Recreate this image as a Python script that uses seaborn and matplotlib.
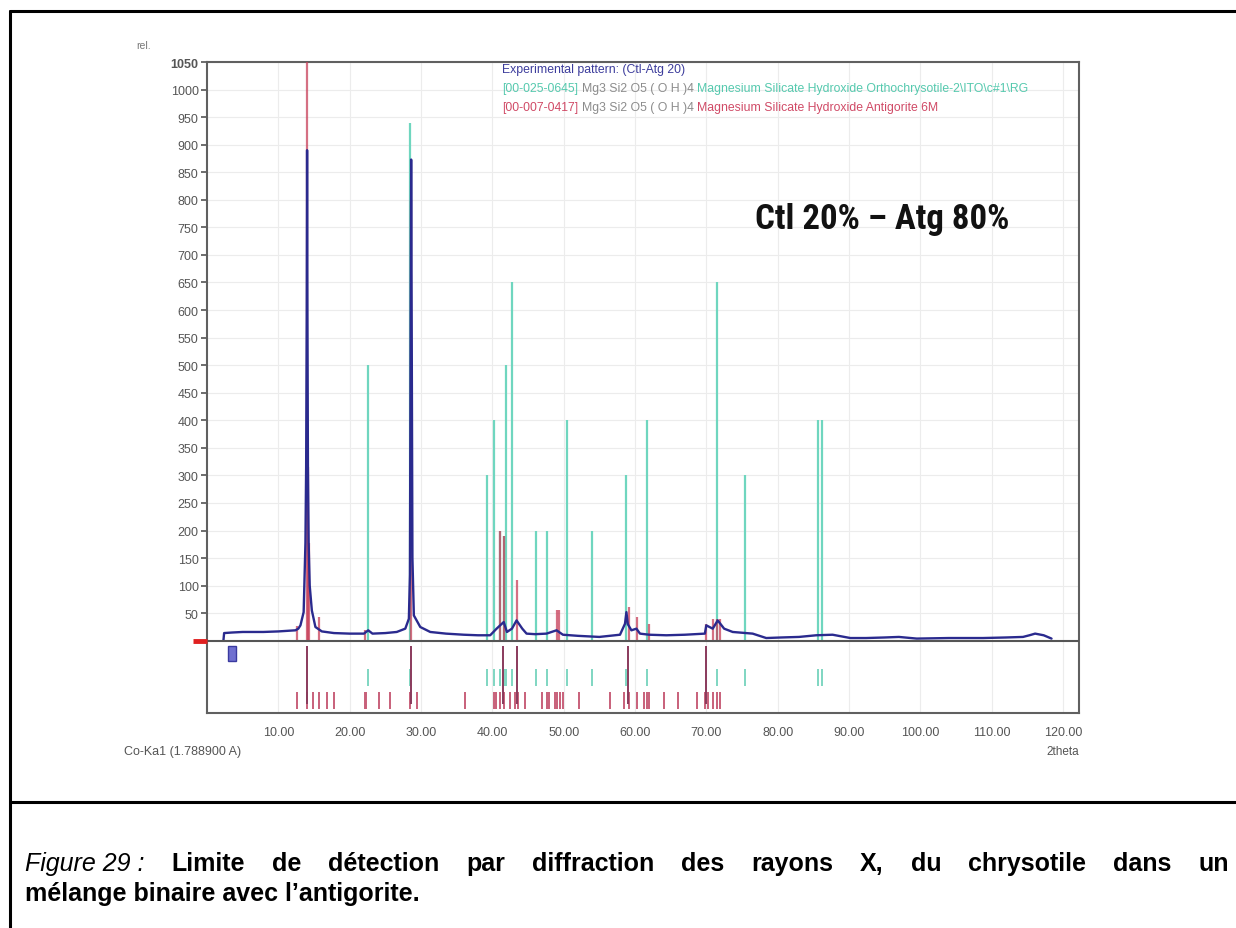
import matplotlib
matplotlib.use("Agg")
import matplotlib.pyplot as plt
import seaborn as sns
from matplotlib.lines import Line2D
from matplotlib.patches import Rectangle

# experimental pattern (2theta, counts)
exp_2theta = [2.3, 2.4, 3.5, 5.0, 7.9, 10.0, 12.4, 12.8, 13.1, 13.55, 13.8, 13.9, 13.98, 14.03,
              14.08, 14.15, 14.25, 14.4, 14.7, 15.2, 16.1, 17.8, 20.0, 22.0, 22.6, 23.2, 25.0,
              26.6, 27.8, 28.3, 28.45, 28.55, 28.62, 28.7, 28.8, 29.0, 29.9, 31.3, 33.5, 36.0,
              38.0, 39.7, 40.6, 41.1, 41.6, 42.05, 42.75, 43.4, 44.2, 44.8, 46.0, 47.6, 49.0,
              49.9, 52.0, 55.0, 57.9, 58.6, 58.8, 59.0, 59.5, 60.2, 60.7, 62.0, 64.4, 67.0,
              69.8, 70.0, 70.9, 71.6, 72.5, 73.7, 76.5, 78.4, 80.5, 83.0, 85.4, 87.7, 90.2,
              92.4, 95.0, 97.0, 99.5, 104.0, 108.8, 112.0, 114.4, 115.3, 116.1, 117.3, 118.4]
exp_counts = [0, 14, 15, 16, 16, 17, 19, 22, 28, 52, 178, 316, 587, 890,
              587, 316, 178, 100, 55, 25, 17, 14, 13, 13, 19, 13, 14,
              16, 22, 40, 120, 560, 873, 560, 150, 46, 25, 16, 13, 11,
              10, 10, 22, 28, 34, 16, 22, 37, 22, 13, 12, 13, 19,
              11, 9, 7, 11, 31, 52, 30, 19, 22, 13, 11, 10, 11,
              13, 28, 22, 37, 22, 16, 13, 5, 6, 7, 10, 11, 5,
              5, 6, 7, 4, 5, 5, 6, 7, 10, 13, 10, 4]

# reference sticks: chrysotile (00-025-0645) and antigorite (00-007-0417)
ctl_pos = [22.6, 28.45, 39.3, 40.2, 41.1, 41.6, 41.9, 42.8, 46.1, 47.7, 50.5, 54.0,
           58.7, 61.7, 71.5, 75.4, 85.7, 86.2]
ctl_int = [500, 940, 300, 400, 200, 190, 500, 650, 200, 200, 400, 200,
           300, 400, 650, 300, 400, 400]
atg_pos = [12.6, 14.05, 14.15, 14.3, 15.65, 22.2, 28.6, 41.1, 41.6, 43.45, 49.0, 49.3,
           59.1, 60.3, 61.9, 70.0, 71.0, 71.5, 71.9]
atg_int = [27, 1100, 316, 178, 43, 20, 800, 200, 190, 110, 55, 55,
           62, 43, 31, 31, 40, 40, 40]

# tick rows below the zero line
peak_ticks = [14.05, 28.55, 41.5, 43.4, 59.0, 70.0]
atg_ticks = [12.6, 14.05, 14.8, 15.7, 16.8, 17.8, 22.1, 22.3, 24.05, 25.6, 28.5, 29.5,
             36.2, 40.2, 40.5, 41.1, 41.6, 42.5, 43.2, 43.6, 44.6, 46.9, 47.6, 47.9,
             48.8, 49.1, 49.5, 49.9, 52.2, 56.5, 58.4, 59.1, 60.3, 61.2, 61.7, 62.0,
             64.0, 66.1, 68.7, 69.8, 70.3, 71.0, 71.5, 71.9]
exp_marker = (2.9, 4.0)

x_ticks = [10, 20, 30, 40, 50, 60, 70, 80, 90, 100, 110, 120]
x_labels = ['10.00', '20.00', '30.00', '40.00', '50.00', '60.00', '70.00', '80.00',
            '90.00', '100.00', '110.00', '120.00']
y_ticks = [50, 100, 150, 200, 250, 300, 350, 400, 450, 500, 550, 600, 650, 700,
           750, 800, 850, 900, 950, 1000, 1050]

legend_lines = [
    [("Experimental pattern: (Ctl-Atg 20)", "#3c3c9c")],
    [("[00-025-0645]", "#55c9ae"), ("Mg3 Si2 O5 ( O H )4", "#8c8c8c"),
     ("Magnesium Silicate Hydroxide Orthochrysotile-2\\ITO\\c#1\\RG", "#55c9ae")],
    [("[00-007-0417]", "#d04a66"), ("Mg3 Si2 O5 ( O H )4", "#8c8c8c"),
     ("Magnesium Silicate Hydroxide Antigorite 6M", "#d04a66")],
]
mix_label = 'Ctl 20% \u2013 Atg 80%'
caption_1 = "Limite de détection par diffraction des rayons X, du chrysotile dans un"
caption_2 = "mélange binaire avec l’antigorite."

sns.set_style("white")
plt.rcParams['font.family'] = ['Liberation Sans', 'DejaVu Sans']

W, H = 1236, 929
fig = plt.figure(figsize=(W / 100, H / 100), dpi=100)


def fx(px):
    return px / W


def fy(py):
    return 1 - py / H


ax = fig.add_axes([fx(207), fy(714), fx(1079) - fx(207), fy(63) - fy(714)])

# sticks
ax.vlines(ctl_pos, 0, ctl_int, color='#6fd6bf', lw=1.6, zorder=2)
ax.vlines(atg_pos, 0, atg_int, color='#c8405a', lw=1.6, alpha=0.75, zorder=3)

# experimental scan
sns.lineplot(x=exp_2theta, y=exp_counts, ax=ax, color='#2a2a8e', lw=1.7,
             estimator=None, sort=False, zorder=4)

# tick rows under the pattern
ax.vlines(peak_ticks, -9, -115, color='#8a3a5c', lw=1.4, zorder=3)
ax.vlines(ctl_pos, -51, -82, color='#7fd6c2', lw=1.4, zorder=2)
ax.vlines(atg_ticks, -93, -124, color='#c8607a', lw=1.4, zorder=2)
ax.add_patch(Rectangle((exp_marker[0], -37), exp_marker[1] - exp_marker[0], 27,
                       facecolor='#7070d0', edgecolor='#3a3aa0', lw=1, zorder=3))

ax.axhline(0, color='#555555', lw=1.5, zorder=5)
ax.plot([-1.95, 0], [0, 0], color='#e02020', lw=3.5, clip_on=False,
        solid_capstyle='butt', zorder=6)

ax.set_xlim(0, 122.25)
ax.set_ylim(-131, 1050)
ax.set_xticks(x_ticks)
ax.set_xticklabels(x_labels)
ax.set_yticks(y_ticks)
ax.set_yticklabels([str(v) for v in y_ticks])
ax.get_yticklabels()[-1].set_fontweight('bold')
ax.get_yticklabels()[-1].set_color('#333333')
ax.tick_params(axis='x', direction='inout', length=8, width=1.2, color='#555555',
               labelsize=9, labelcolor='#555555', pad=5)
ax.tick_params(axis='y', direction='out', length=4, width=1.2, color='#555555',
               labelsize=9, labelcolor='#555555', pad=2, left=True)
ax.grid(True, color='#ececec', lw=0.8)
ax.set_axisbelow(True)
ax.set_xlabel('')
ax.set_ylabel('')
for sp in ax.spines.values():
    sp.set_visible(True)
    sp.set_color('#606060')
    sp.set_linewidth(1.5)

# axis annotations
fig.text(fx(136), fy(46), 'rel.', fontsize=7.5, color='#777777', va='center')
fig.text(fx(1063), fy(752), '2theta', fontsize=8.5, color='#555555', ha='center', va='center')
fig.text(fx(124), fy(752), 'Co-Ka1 (1.788900 A)', fontsize=9, color='#555555', va='center')

fig.canvas.draw()
renderer = fig.canvas.get_renderer()

# big label in a narrow bold face, fitted to its width in the scan
big = fig.text(fx(755), fy(229), mix_label, fontsize=27, fontweight='bold',
               fontstretch='condensed',
               family=['Liberation Sans Narrow', 'Roboto Condensed', 'DejaVu Sans Condensed',
                       'Liberation Sans'],
               va='baseline', color='#111111')
bw = big.get_window_extent(renderer).width
big.set_fontsize(27 * 255 / bw)

# legend lines, built segment by segment
gap = 3.5
for i, segs in enumerate(legend_lines):
    x = 502
    y = 70 + i * 19
    for s, c in segs:
        t = fig.text(fx(x), fy(y), s, fontsize=8.8, color=c, va='center')
        x += t.get_window_extent(renderer).width + gap

# document frame
frame_kw = dict(color='black', lw=2.2, transform=fig.transFigure)
fig.add_artist(Line2D([fx(10), 1], [fy(12), fy(12)], **frame_kw))
fig.add_artist(Line2D([fx(10), fx(10)], [fy(12), 0], **frame_kw))
fig.add_artist(Line2D([fx(10), 1], [fy(803), fy(803)], **frame_kw))

# caption, first line justified
segs = [("Figure 29 :", "italic", "normal")] + [(w, "normal", "bold") for w in caption_1.split()]
texts = []
for s, st, wt in segs:
    texts.append(fig.text(0, fy(871), s, fontsize=18, fontstyle=st, fontweight=wt,
                          va='baseline', color='black'))
fig.canvas.draw()
widths = [t.get_window_extent(renderer).width for t in texts]
x0, x1 = 25, 1229
g = (x1 - x0 - sum(widths)) / (len(texts) - 1)
x = x0
for t, w in zip(texts, widths):
    t.set_x(fx(x))
    x += w + g
fig.text(fx(25), fy(901), caption_2, fontsize=18, fontweight='bold', va='baseline', color='black')

fig.savefig('out.png', dpi=100)
